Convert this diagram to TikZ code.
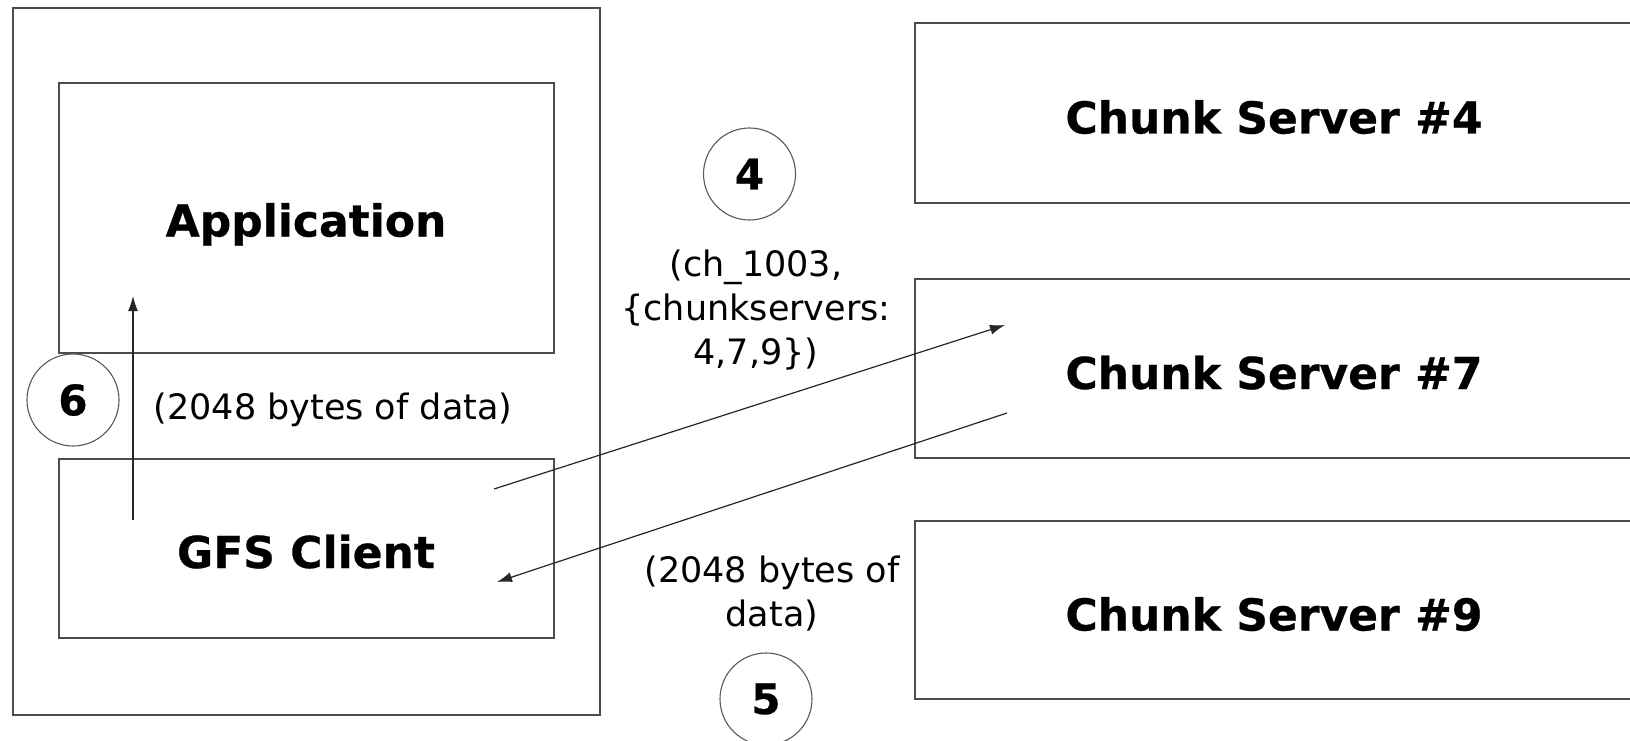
\documentclass[tikz,border=0pt]{standalone}
\usepackage{fontspec}
\setmainfont{DejaVu Sans}[BoldFeatures={FakeBold=0.6}]
\usetikzlibrary{arrows.meta}
\begin{document}
\begin{tikzpicture}[x=1pt,y=-1pt,
  box/.style={draw=black!70, line width=1.5pt, rectangle, inner sep=0pt},
  title/.style={font=\fontsize{44}{52}\selectfont\bfseries, text depth=0pt,
    text height=33pt},
  msg/.style={font=\fontsize{35}{44}\selectfont, align=center, inner sep=0pt},
  badge/.style={draw=black!65, line width=1.1pt, circle, fill=white,
    minimum size=92pt, inner sep=0pt, font=\fontsize{42}{50}\selectfont\bfseries},
  flow/.style={draw=black!85, line width=1.2pt, -{Latex[length=15pt,width=10pt]}}]
\useasboundingbox (0,0) rectangle (1630,741);
\fill[white] (0,0) rectangle (1630,741);

% client machine
\node[box, minimum width=587pt, minimum height=707pt] (host) at (306.5,361.5) {};
\node[box, minimum width=495pt, minimum height=270pt] (app) at (306.5,218) {};
\node[box, minimum width=495pt, minimum height=179pt] (gfs) at (306.5,548.5) {};
\node[title] (appname) at (306,220) {Application};
\node[title] (gfsname) at (306,551.5) {GFS Client};

% chunk servers
\node[box, minimum width=717pt, minimum height=180pt] (cs4) at (1273.5,113) {};
\node[box, minimum width=717pt, minimum height=179pt] (cs7) at (1273.5,368.5) {};
\node[box, minimum width=717pt, minimum height=178pt] (cs9) at (1273.5,610) {};
\node[title] (cs4name) at (1274,117) {Chunk Server \#4};
\node[title] (cs7name) at (1274,372.5) {Chunk Server \#7};
\node[title] (cs9name) at (1274,614) {Chunk Server \#9};

% step badges
\node[badge] (s6) at (73,400) {6};
\node[badge] (s4) at (749.5,174) {4};
\node[badge] (s5) at (766,699) {5};

% message labels
\node[msg] (m6) at (333,410) {(2048 bytes of data)};
\node[msg] (m4) at (756,310) {(ch\_1003,\\\{chunkservers:\\4,7,9\})};
\node[msg] (m5) at (772,594) {(2048 bytes of\\data)};

% message flows
\coordinate (req) at (494,489);
\coordinate (reqend) at (1005,325);
\coordinate (rep) at (1007,413);
\coordinate (repend) at (497,582);
\coordinate (up) at (133,520);
\coordinate (upend) at (133,296);
\draw[flow] (req) -- (reqend);
\draw[flow] (rep) -- (repend);
\draw[flow] (up) -- (upend);
\end{tikzpicture}
\end{document}
